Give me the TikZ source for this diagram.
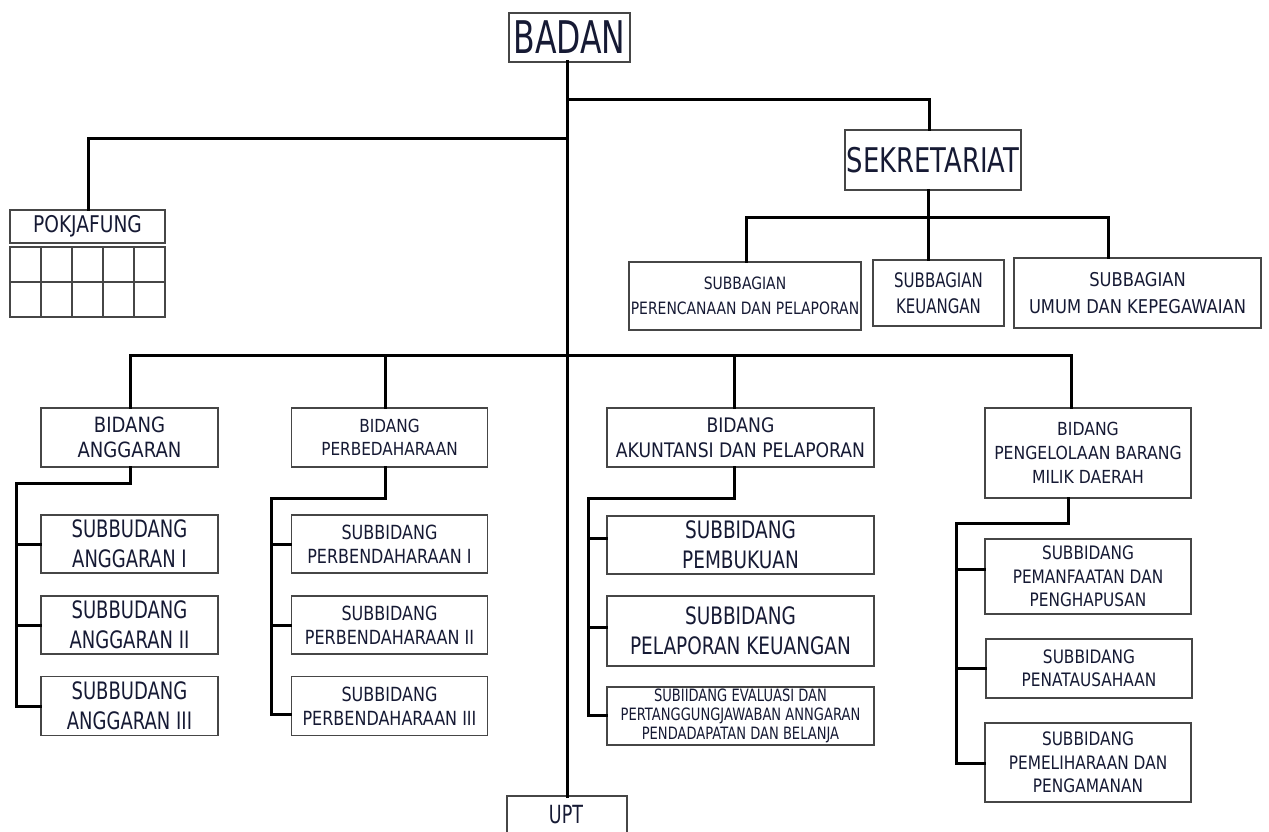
\documentclass[tikz,border=0pt]{standalone}
\usepackage{fontspec}
\setmainfont{DejaVu Sans}[FakeStretch=0.7]
\definecolor{textc}{RGB}{22,26,52}
\definecolor{boxc}{RGB}{70,70,70}
\newcommand{\ff}[3]{\fontspec{DejaVu Sans}[FakeStretch=#1]\fontsize{#2}{\fpeval{#2*#3}}\selectfont}
\begin{document}
\begin{tikzpicture}[x=1pt,y=-1pt,
  box/.style={draw=boxc, line width=1.1pt, fill=white, inner sep=0pt, align=center, text=textc},
  conn/.style={draw=black, line width=3pt, line cap=rect},
  thin/.style={draw=boxc, line width=1.1pt}]
\useasboundingbox (0,0) rectangle (1269,832);
\fill[white] (0,0) rectangle (1269,832);
% junction coordinates
\coordinate (top) at (567,62);
\coordinate (jsek) at (929,100);
\coordinate (jpok) at (88,139);
\coordinate (jmL) at (130,355);
\coordinate (jmP) at (385,355);
\coordinate (jmK) at (734,355);
\coordinate (jmM) at (1071,355);
\coordinate (js) at (928,217);
\coordinate (jsL) at (746,217);
\coordinate (jsR) at (1108,217);
\coordinate (jA) at (130,483);
\coordinate (vA) at (16,483);
\coordinate (jP) at (385,498);
\coordinate (vP) at (271,498);
\coordinate (jK) at (734,498);
\coordinate (vK) at (588,498);
\coordinate (jM) at (1068,523);
\coordinate (vM) at (956,523);
\coordinate (uptT) at (567,796);

% nodes
\node[box, minimum width=121, minimum height=49, font=\ff{0.7}{45}{1.2}] (badan) at (569.5,37.5) {BADAN};
\node[box, minimum width=176, minimum height=60, font=\ff{0.76}{34}{1.2}] (sek) at (933,160) {SEKRETARIAT};
\node[box, minimum width=155, minimum height=33, font=\ff{0.81}{23}{1.2}] (pok) at (87.5,226.5) {POKJAFUNG};
\draw[thin] (10,247) rectangle (165,317);
\draw[thin] (10,282) -- (165,282);
\foreach \xx in {41,72,103,134} \draw[thin] (\xx,247) -- (\xx,317);

\node[box, minimum width=232, minimum height=68, font=\ff{0.82}{17}{1.5}] (sbA) at (745,296) {SUBBAGIAN\\PERENCANAAN DAN PELAPORAN};
\node[box, minimum width=131, minimum height=66, font=\ff{0.75}{20}{1.3}] (sbB) at (938.5,293) {SUBBAGIAN\\KEUANGAN};
\node[box, minimum width=247, minimum height=70, font=\ff{0.86}{19}{1.4}] (sbC) at (1137.5,293) {SUBBAGIAN\\UMUM DAN KEPEGAWAIAN};

\node[box, minimum width=177, minimum height=59, font=\ff{0.86}{21}{1.22}] (bA) at (129.5,437.5) {BIDANG\\ANGGARAN};
\node[box, minimum width=196, minimum height=59, font=\ff{0.85}{18}{1.3}] (bP) at (389.5,437.5) {BIDANG\\PERBEDAHARAAN};
\node[box, minimum width=267, minimum height=59, font=\ff{0.86}{20}{1.25}] (bK) at (740.5,437.5) {BIDANG\\AKUNTANSI DAN PELAPORAN};
\node[box, minimum width=206, minimum height=90, font=\ff{0.87}{18}{1.33}] (bM) at (1088,453) {BIDANG\\PENGELOLAAN BARANG\\MILIK DAERAH};

\node[box, minimum width=177, minimum height=58, font=\ff{0.75}{24}{1.25}] (aI) at (129.5,544) {SUBBUDANG\\ANGGARAN I};
\node[box, minimum width=177, minimum height=58, font=\ff{0.75}{24}{1.25}] (aII) at (129.5,625) {SUBBUDANG\\ANGGARAN II};
\node[box, minimum width=177, minimum height=59, font=\ff{0.75}{24}{1.25}] (aIII) at (129.5,706) {SUBBUDANG\\ANGGARAN III};

\node[box, minimum width=196, minimum height=58, font=\ff{0.82}{19.5}{1.25}] (pI) at (389.5,544) {SUBBIDANG\\PERBENDAHARAAN I};
\node[box, minimum width=196, minimum height=58, font=\ff{0.82}{19.5}{1.25}] (pII) at (389.5,625) {SUBBIDANG\\PERBENDAHARAAN II};
\node[box, minimum width=196, minimum height=59, font=\ff{0.82}{19.5}{1.25}] (pIII) at (389.5,706) {SUBBIDANG\\PERBENDAHARAAN III};

\node[box, minimum width=267, minimum height=58, font=\ff{0.77}{24}{1.25}] (kI) at (740.5,545) {SUBBIDANG\\PEMBUKUAN};
\node[box, minimum width=267, minimum height=70, font=\ff{0.77}{24}{1.25}] (kII) at (740.5,631) {SUBBIDANG\\PELAPORAN KEUANGAN};
\node[box, minimum width=267, minimum height=58, font=\ff{0.77}{17}{1.12}] (kIII) at (740.5,716) {SUBIIDANG EVALUASI DAN\\PERTANGGUNGJAWABAN ANNGARAN\\PENDADAPATAN DAN BELANJA};

\node[box, minimum width=206, minimum height=75, font=\ff{0.83}{18.5}{1.26}] (mI) at (1088,576.5) {SUBBIDANG\\PEMANFAATAN DAN\\PENGHAPUSAN};
\node[box, minimum width=206, minimum height=59, font=\ff{0.83}{18.5}{1.26}] (mII) at (1089,668.5) {SUBBIDANG\\PENATAUSAHAAN};
\node[box, minimum width=206, minimum height=79, font=\ff{0.83}{18.5}{1.26}] (mIII) at (1088,762.5) {SUBBIDANG\\PEMELIHARAAN DAN\\PENGAMANAN};

\node[text=textc, font=\ff{0.7}{25}{1.2}, inner sep=0pt] (upt) at (566,815) {UPT};
\draw[thin] (507,834) |- (uptT) -| (627,834);

% connectors
\draw[conn] (top) -- (uptT);
\draw[conn] (top |- jsek) -- (jsek) -- (jsek |- sek.north);
\draw[conn] (top |- jpok) -- (jpok) -- (jpok |- pok.north);
\draw[conn] (jmL) -- (jmM);
\draw[conn] (jmL) -- (jmL |- bA.north);
\draw[conn] (jmP) -- (jmP |- bP.north);
\draw[conn] (jmK) -- (jmK |- bK.north);
\draw[conn] (jmM) -- (jmM |- bM.north);
\draw[conn] (js |- sek.south) -- (js);
\draw[conn] (jsL) -- (jsR);
\draw[conn] (jsL) -- (jsL |- sbA.north);
\draw[conn] (js) -- (js |- sbB.north);
\draw[conn] (jsR) -- (jsR |- sbC.north);

\draw[conn] (jA |- bA.south) -- (jA) -- (vA) -- (vA |- aIII.west) -- (aIII.west);
\draw[conn] (vA |- aI.west) -- (aI.west);
\draw[conn] (vA |- aII.west) -- (aII.west);

\draw[conn] (jP |- bP.south) -- (jP) -- (vP) -- (vP |- 0,714) -- (pIII.west |- 0,714);
\draw[conn] (vP |- pI.west) -- (pI.west);
\draw[conn] (vP |- pII.west) -- (pII.west);

\draw[conn] (jK |- bK.south) -- (jK) -- (vK) -- (vK |- 0,715) -- (kIII.west |- 0,715);
\draw[conn] (vK |- 0,538) -- (kI.west |- 0,538);
\draw[conn] (vK |- 0,627) -- (kII.west |- 0,627);

\draw[conn] (jM |- bM.south) -- (jM) -- (vM) -- (vM |- 0,763) -- (mIII.west |- 0,763);
\draw[conn] (vM |- 0,569) -- (mI.west |- 0,569);
\draw[conn] (vM |- mII.west) -- (mII.west);
\end{tikzpicture}
\end{document}
